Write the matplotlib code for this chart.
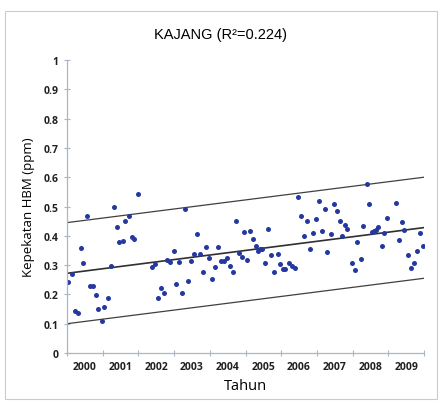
import numpy as np
import matplotlib.pyplot as plt
from matplotlib.patches import Rectangle

# month index (0 = Jan 2000) and HBM concentration (ppm)
months = [0.4, 1.8, 2.7, 3.7, 4.7, 5.5, 6.7, 7.6, 8.6, 9.7, 10.5, 11.7,
          12.6, 13.7, 14.8, 15.7, 16.8, 17.6, 18.7, 19.6, 20.7, 21.7, 22.6, 23.9,
          28.6, 29.7, 30.7, 31.6, 32.7, 33.5, 34.6, 35.9,
          36.6, 37.7, 38.7, 39.7, 40.6, 41.7, 42.8, 43.7, 44.7, 45.6, 46.7, 47.6,
          48.7, 49.7, 50.6, 51.8, 52.7, 53.8, 54.7, 55.7, 56.8, 57.7, 58.7, 59.6,
          60.6, 61.5, 62.6, 63.5, 64.3, 64.9, 65.5, 66.6, 67.7, 68.5, 69.7, 70.8, 71.6,
          72.5, 73.3, 74.7, 75.6, 76.6, 77.8, 78.7, 79.7, 80.6, 81.7, 82.8, 83.7,
          84.7, 85.6, 86.7, 87.5, 88.6, 89.9, 90.7, 91.8, 92.5, 93.4, 94.2, 95.7,
          96.8, 97.6, 98.8, 99.6, 100.7, 101.5, 102.6, 103.2, 103.8, 104.6, 105.8,
          106.6, 107.7, 110.6, 111.6, 112.7, 113.4, 114.7, 115.5, 116.6, 117.8,
          118.6, 119.8]
hbm = [0.243, 0.271, 0.142, 0.137, 0.359, 0.307, 0.467, 0.230, 0.227, 0.198, 0.150, 0.110,
       0.158, 0.189, 0.297, 0.500, 0.431, 0.379, 0.381, 0.451, 0.467, 0.396, 0.388, 0.544,
       0.295, 0.303, 0.189, 0.221, 0.205, 0.318, 0.311, 0.349,
       0.237, 0.311, 0.205, 0.490, 0.246, 0.315, 0.338, 0.406, 0.338, 0.278, 0.362, 0.324,
       0.251, 0.293, 0.362, 0.313, 0.315, 0.324, 0.296, 0.278, 0.450, 0.341, 0.329, 0.414,
       0.317, 0.418, 0.390, 0.365, 0.348, 0.354, 0.356, 0.308, 0.422, 0.333, 0.277, 0.338, 0.305,
       0.288, 0.285, 0.308, 0.297, 0.291, 0.532, 0.469, 0.401, 0.450, 0.354, 0.410, 0.457,
       0.518, 0.416, 0.493, 0.345, 0.405, 0.507, 0.485, 0.449, 0.398, 0.438, 0.424, 0.308,
       0.283, 0.380, 0.320, 0.433, 0.577, 0.509, 0.413, 0.415, 0.420, 0.431, 0.364,
       0.409, 0.460, 0.512, 0.384, 0.448, 0.421, 0.336, 0.290, 0.307, 0.348,
       0.408, 0.364]

# regression line and band, value at start / end of the period
line_x = [2000, 2010]
trend = [0.272, 0.428]
upper = [0.445, 0.600]
lower = [0.100, 0.255]

years = list(range(2000, 2010))
title = 'KAJANG (R\u00b2=0.224)'

x = 2000 + np.array(months) / 12.0

fig = plt.figure(figsize=(4.42, 4.10), dpi=100)
fig.patches.append(Rectangle((0.012, 0.025), 0.976, 0.945, transform=fig.transFigure,
                             fill=False, edgecolor='#c8ccd0', linewidth=0.8))
ax = fig.add_axes([0.1516, 0.1366, 0.8077, 0.7146])

ax.plot(line_x, upper, color='#404040', linewidth=0.9)
ax.plot(line_x, lower, color='#404040', linewidth=0.9)
ax.plot(line_x, trend, color='#303030', linewidth=1.2)
ax.plot(x, hbm, 'o', color='#2438a0', markersize=3.6, markeredgewidth=0)

ax.set_xlim(2000, 2010)
ax.set_ylim(0, 1)
ax.set_yticks(np.arange(0, 1.01, 0.1))
ax.set_yticklabels(['0', '0.1', '0.2', '0.3', '0.4', '0.5', '0.6', '0.7', '0.8', '0.9', '1'])
ax.set_xticks(range(2000, 2011))
ax.set_xticklabels([])
ax.set_xticks([y + 0.5 for y in years], minor=True)
ax.set_xticklabels([str(y) for y in years], minor=True)

axis_col = '#a8b6c6'
for s in ['top', 'right']:
    ax.spines[s].set_visible(False)
for s in ['left', 'bottom']:
    ax.spines[s].set_color(axis_col)
    ax.spines[s].set_linewidth(0.9)
ax.tick_params(axis='both', which='major', direction='inout', length=5, color=axis_col,
               labelsize=7.5, labelcolor='#202020')
ax.tick_params(axis='x', which='minor', length=0, labelsize=7.5, labelcolor='#202020', pad=6)
for lab in ax.get_xticklabels(minor=True) + ax.get_yticklabels():
    lab.set_fontweight('bold')
    lab.set_family('Open Sans')

ax.set_xlabel('Tahun', fontsize=10.5, family='Open Sans', labelpad=4)
ax.set_ylabel('Kepekatan HBM (ppm)', fontsize=9.5, family='Open Sans', labelpad=6)
fig.text(0.5, 0.915, title, ha='center', va='center', fontsize=10.5, family='Liberation Sans')

plt.savefig('out.png', dpi=100)
